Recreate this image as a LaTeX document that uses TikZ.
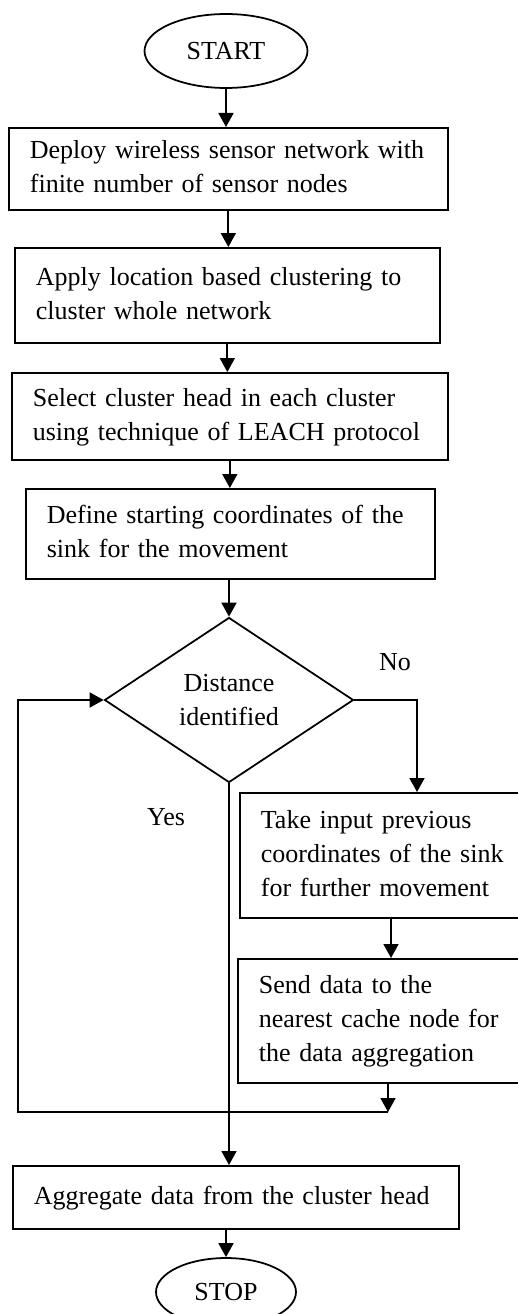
\documentclass[tikz,border=0pt]{standalone}
\usepackage{fontspec}
\setmainfont{Liberation Serif}
\usetikzlibrary{shapes.geometric,arrows.meta,calc}
\newcommand\boxlines[1]{\begin{tabular}{@{}l@{}}#1\end{tabular}}
\begin{document}
\begin{tikzpicture}[x=0.02cm,y=-0.02cm,
  every node/.style={font=\fontsize{14.8pt}{19.3pt}\selectfont},
  box/.style={draw, line width=1pt, anchor=north west, align=left, inner xsep=0.42cm, inner ysep=0pt},
  term/.style={draw, line width=1pt, ellipse, inner sep=0pt},
  arr/.style={line width=1pt, -{Triangle[length=0.28cm,width=0.3cm]}},
  ln/.style={line width=1pt}
]
\useasboundingbox (0,0) rectangle (517,1314);
\node[term, minimum width=3.26cm, minimum height=1.48cm] (start) at (226,51) {START};
\node[box, text width=7.94cm, minimum height=1.64cm] (b1) at (8,127) {\boxlines{Deploy wireless sensor network with\\finite number of sensor nodes}};
\node[box, text width=7.66cm, minimum height=1.9cm] (b2) at (14,247) {\boxlines{Apply location based clustering to\\cluster whole network}};
\node[box, text width=7.88cm, minimum height=1.74cm] (b3) at (11,372) {\boxlines{Select cluster head in each cluster\\using technique of LEACH protocol}};
\node[box, text width=7.34cm, minimum height=1.8cm] (b4) at (25,488) {\boxlines{Define starting coordinates of the\\sink for the movement}};
\node[draw, line width=1pt, diamond, minimum width=4.98cm, minimum height=3.3cm, inner sep=0pt, align=center] (dia) at (229,700) {Distance\\identified};
\node[box, text width=4.96cm, minimum height=2.5cm] (b5) at (239,792) {\boxlines{Take input previous\\coordinates of the sink\\for further movement}};
\node[box, text width=5.0cm, minimum height=2.48cm] (b6) at (237,958) {\boxlines{Send data to the\\nearest cache node for\\the data aggregation}};
\node[box, text width=8.08cm, minimum height=1.26cm] (b7) at (12,1165) {\boxlines{Aggregate data from the cluster head}};
\node[term, minimum width=2.8cm, minimum height=1.36cm] (stop) at (226,1292) {STOP};
\node (no) at (395,662) {No};
\node (yes) at (166,817) {Yes};
\coordinate (j) at (388,1112);
\coordinate (lp) at (18,1112);
\draw[arr] (start.south) -- (start.south |- b1.north);
\draw[arr] (b1.south) -- (b1.south |- b2.north);
\draw[arr] (b2.south) -- (b2.south |- b3.north);
\draw[arr] (b3.south) -- (b3.south |- b4.north);
\draw[arr] (b4.south -| dia.north) -- (dia.north);
\draw[arr] (dia.east) -| ($(b5.north west)+(178,0)$);
\draw[arr] ($(b5.south west)+(152,0)$) -- ($(b6.north west)+(154,0)$);
\draw[arr] ($(b6.south west)+(151,0)$) -- (j);
\draw[arr] (j) -- (lp) |- (dia.west);
\draw[arr] (dia.south) -- (dia.south |- b7.north);
\draw[arr] (b7.south -| stop.north) -- (stop.north);
\end{tikzpicture}
\end{document}
